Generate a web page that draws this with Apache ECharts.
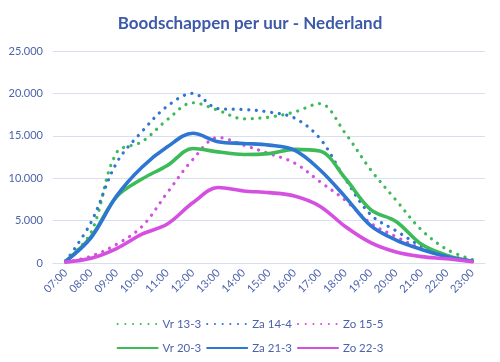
<!DOCTYPE html>
<html><head><meta charset="utf-8">
<script src="https://cdn.jsdelivr.net/npm/echarts@6/dist/echarts.min.js"></script>
<style>html,body{margin:0;padding:0;background:#fff}#c{width:500px;height:362px}</style>
</head><body><div id="c"></div>
<script>
var hours = ['07:00','08:00','09:00','10:00','11:00','12:00','13:00','14:00','15:00','16:00','17:00','18:00','19:00','20:00','21:00','22:00','23:00'];
var vr13 = [300, 3600, 13000, 14300, 16900, 18900, 18000, 17000, 17200, 17800, 18800, 15300, 11000, 7400, 3900, 1600, 400];
var za14 = [200, 4800, 11800, 15500, 18500, 20000, 18200, 18100, 17800, 17100, 14700, 9900, 5700, 3800, 2000, 900, 300];
var zo15 = [100, 800, 2200, 4300, 8300, 12200, 14800, 13900, 12900, 11800, 9600, 7400, 4700, 3100, 1700, 800, 200];
var vr20 = [200, 3100, 7800, 9900, 11500, 13500, 13100, 12800, 12900, 13400, 13200, 10000, 6300, 4900, 2200, 900, 200];
var za21 = [200, 3000, 7900, 11300, 13700, 15300, 14300, 14100, 13900, 13300, 11000, 7800, 4400, 2700, 1600, 750, 200];
var zo22 = [100, 550, 1700, 3400, 4600, 7100, 8900, 8500, 8300, 7900, 6700, 4300, 2400, 1300, 750, 500, 150];
var names = ['Vr 13-3','Za 14-4','Zo 15-5','Vr 20-3','Za 21-3','Zo 22-3'];

var GREEN = '#3dbb58', BLUE = '#2e76d2', PINK = '#d54fe0';
var TXT = '#4d62ad';
var FONT = 'Lato';

function dotted(name, data, color) {
  return {name: name, type: 'line', data: data, smooth: 0.35, symbol: 'none', showSymbol: false,
    lineStyle: {color: color, width: 3.2, type: [0.1, 7.6], cap: 'round'},
    itemStyle: {color: color}};
}
function solid(name, data, color) {
  return {name: name, type: 'line', data: data, smooth: 0.35, symbol: 'none', showSymbol: false,
    lineStyle: {color: color, width: 3.6, cap: 'round'},
    itemStyle: {color: color}};
}
function fmt(v){ return String(v).replace(/\B(?=(\d{3})+(?!\d))/g, '.'); }

var legendBase = {left: 'center', itemWidth: 40, itemHeight: 14, itemGap: 5,
  itemStyle: {color: 'rgba(0,0,0,0)', borderWidth: 0, opacity: 0},
  textStyle: {color: TXT, fontSize: 11.5, fontFamily: FONT}};

var chart = echarts.init(document.getElementById('c'), null, {renderer: 'canvas'});
chart.setOption({
  animation: false,
  backgroundColor: '#fff',
  title: {text: 'Boodschappen per uur - Nederland', left: 'center', top: 10,
    textStyle: {color: '#3d5aa8', fontSize: 17, fontWeight: 'bold', fontFamily: FONT}},
  grid: {left: 53, right: 15, top: 51, bottom: 99},
  legend: [
    Object.assign({}, legendBase, {data: names.slice(0,3), top: 313}),
    Object.assign({}, legendBase, {data: names.slice(3), top: 337})
  ],
  xAxis: {type: 'category', data: hours, boundaryGap: true,
    axisLine: {lineStyle: {color: '#d9def0', width: 1}}, axisTick: {show: false},
    axisLabel: {rotate: 45, color: TXT, fontSize: 11, fontFamily: FONT, margin: 8, interval: 0}},
  yAxis: {type: 'value', min: 0, max: 25000, interval: 5000,
    axisLine: {show: false}, axisTick: {show: false},
    splitLine: {lineStyle: {color: '#d9def0', width: 1}},
    axisLabel: {color: TXT, fontSize: 11, fontFamily: FONT, margin: 10, formatter: fmt}},
  series: [
    dotted(names[0], vr13, GREEN),
    dotted(names[1], za14, BLUE),
    dotted(names[2], zo15, PINK),
    solid(names[3], vr20, GREEN),
    solid(names[4], za21, BLUE),
    solid(names[5], zo22, PINK)
  ]
});
</script></body></html>
